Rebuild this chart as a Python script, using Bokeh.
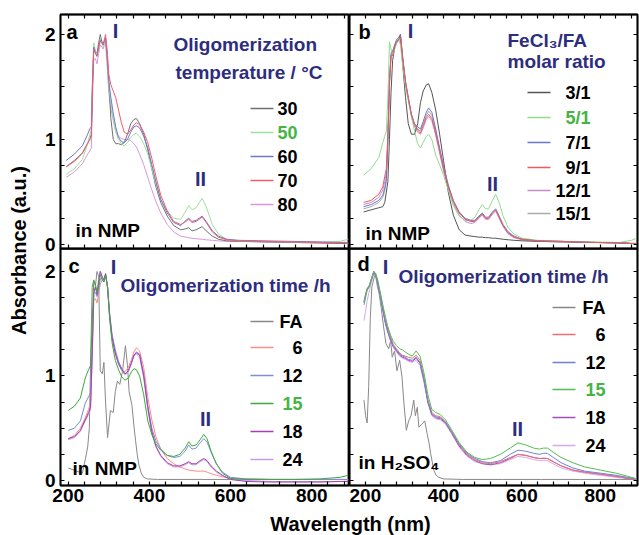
import math
from bokeh.plotting import figure
from bokeh.models import Label, FixedTicker, Range1d, LinearAxis
from bokeh.layouts import row, column
from bokeh.embed import file_html
from bokeh.resources import INLINE

# ---------------- data ----------------
# panel a : oligomerization temperature (in NMP)
WL_A = [195, 215, 235, 248, 253, 257, 260, 263, 267, 271, 275, 279, 283, 286, 289, 292, 296,
        300, 305, 311, 317, 324, 331, 338, 346, 354, 362, 368, 376, 386, 396, 406, 416, 428, 444, 460, 477,
        490, 497, 505, 515, 530, 540, 555, 570, 590, 620, 680, 750, 820, 870, 890]
A_30 = [0.74, 0.80, 0.87, 0.96, 1.00, 1.05, 1.55, 1.88, 1.84, 1.82, 1.92, 2.00, 1.93, 1.90, 1.93, 1.96, 1.80,
        1.55, 1.20, 1.00, 0.96, 0.96, 0.95, 0.97, 1.05, 1.15, 1.19, 1.20, 1.15, 1.05, 0.90, 0.72, 0.55, 0.40, 0.27, 0.18, 0.14,
        0.15, 0.16, 0.13, 0.14, 0.17, 0.13, 0.08, 0.05, 0.035, 0.03, 0.025, 0.02, 0.015, 0.01, 0.01]
A_50 = [0.67, 0.72, 0.81, 0.96, 1.04, 1.10, 1.60, 1.92, 1.84, 1.80, 1.86, 1.93, 1.92, 1.88, 1.92, 1.95, 1.75,
        1.50, 1.35, 1.20, 1.07, 1.00, 0.96, 0.94, 0.97, 1.02, 1.05, 1.06, 1.03, 0.96, 0.86, 0.72, 0.58, 0.43, 0.32, 0.25, 0.24,
        0.32, 0.37, 0.33, 0.35, 0.44, 0.36, 0.19, 0.10, 0.05, 0.035, 0.03, 0.025, 0.02, 0.03, 0.05]
A_60 = [0.80, 0.86, 0.94, 1.05, 1.10, 1.12, 1.58, 1.88, 1.82, 1.79, 1.88, 1.95, 1.93, 1.90, 1.94, 1.97, 1.78,
        1.55, 1.40, 1.25, 1.12, 1.02, 0.98, 0.97, 1.00, 1.07, 1.12, 1.13, 1.11, 1.03, 0.92, 0.76, 0.60, 0.43, 0.30, 0.21, 0.18,
        0.23, 0.25, 0.22, 0.23, 0.27, 0.22, 0.13, 0.08, 0.05, 0.04, 0.035, 0.03, 0.025, 0.02, 0.02]
A_70 = [0.74, 0.79, 0.87, 0.97, 1.00, 1.03, 1.52, 1.86, 1.82, 1.80, 1.88, 1.94, 1.92, 1.90, 1.95, 2.00, 1.85,
        1.62, 1.52, 1.46, 1.40, 1.28, 1.16, 1.07, 1.05, 1.09, 1.14, 1.16, 1.14, 1.07, 0.97, 0.82, 0.65, 0.47, 0.32, 0.22, 0.19,
        0.22, 0.24, 0.21, 0.22, 0.26, 0.21, 0.12, 0.07, 0.045, 0.035, 0.03, 0.025, 0.02, 0.015, 0.01]
A_80 = [0.64, 0.69, 0.77, 0.86, 0.89, 0.92, 1.40, 1.76, 1.77, 1.72, 1.82, 1.90, 1.88, 1.86, 1.90, 1.93, 1.70,
        1.45, 1.30, 1.18, 1.08, 1.03, 1.01, 1.00, 1.00, 0.99, 0.96, 0.93, 0.86, 0.76, 0.64, 0.52, 0.41, 0.30, 0.19, 0.12, 0.08,
        0.07, 0.065, 0.06, 0.055, 0.05, 0.045, 0.04, 0.035, 0.03, 0.03, 0.025, 0.02, 0.015, 0.01, 0.01]
A_NAMES = ["30", "50", "60", "70", "80"]

# panel b : FeCl3/FA molar ratio (in NMP)
WL_B = [196, 215, 235, 245, 250, 254, 258, 262, 266, 270, 275, 280, 285, 290, 296, 303, 310, 318, 326, 334,
        341, 348, 356, 362, 370, 380, 390, 400, 412, 425, 440, 455, 470, 480, 490, 499, 507, 515, 525, 533,
        542, 552, 565, 580, 600, 640, 700, 780, 850, 880, 893]
B_3 = [0.31, 0.33, 0.35, 0.36, 0.40, 0.50, 0.60, 1.00, 1.45, 1.75, 1.87, 1.92, 1.95, 2.00, 1.70, 1.40, 1.15, 1.05, 1.05, 1.15,
       1.35, 1.46, 1.52, 1.53, 1.45, 1.28, 1.05, 0.80, 0.50, 0.28, 0.14, 0.09, 0.08, 0.075, 0.07, 0.07, 0.065, 0.065, 0.06, 0.06,
       0.055, 0.05, 0.045, 0.04, 0.035, 0.03, 0.025, 0.02, 0.015, 0.01, 0.01]
B_5 = [0.66, 0.72, 0.83, 0.97, 1.03, 1.08, 1.40, 1.93, 1.86, 1.80, 1.85, 1.92, 1.97, 1.90, 1.70, 1.50, 1.38, 1.22, 1.08, 0.96,
       0.92, 0.97, 1.03, 1.05, 1.00, 0.85, 0.76, 0.66, 0.52, 0.37, 0.27, 0.23, 0.23, 0.26, 0.33, 0.38, 0.34, 0.34, 0.42, 0.48,
       0.40, 0.27, 0.16, 0.10, 0.06, 0.04, 0.03, 0.025, 0.02, 0.04, 0.06]
B_7 = [0.36, 0.38, 0.42, 0.47, 0.54, 0.62, 1.00, 1.55, 1.82, 1.84, 1.90, 1.95, 1.97, 2.00, 1.78, 1.55, 1.40, 1.24, 1.15, 1.12,
       1.10, 1.17, 1.26, 1.30, 1.26, 1.10, 0.92, 0.75, 0.57, 0.42, 0.31, 0.25, 0.23, 0.23, 0.27, 0.30, 0.26, 0.26, 0.31, 0.34,
       0.27, 0.19, 0.12, 0.08, 0.05, 0.035, 0.03, 0.02, 0.015, 0.01, 0.01]
B_9 = [0.40, 0.42, 0.48, 0.55, 0.65, 0.72, 1.05, 1.55, 1.80, 1.80, 1.88, 1.93, 1.95, 1.98, 1.76, 1.55, 1.40, 1.24, 1.14, 1.09,
       1.06, 1.13, 1.21, 1.24, 1.20, 1.06, 0.89, 0.72, 0.55, 0.41, 0.30, 0.24, 0.22, 0.22, 0.26, 0.29, 0.25, 0.25, 0.30, 0.33,
       0.26, 0.18, 0.11, 0.07, 0.05, 0.035, 0.03, 0.02, 0.015, 0.01, 0.01]
B_12 = [0.38, 0.40, 0.45, 0.52, 0.60, 0.68, 1.02, 1.52, 1.80, 1.80, 1.87, 1.92, 1.94, 1.97, 1.75, 1.53, 1.38, 1.22, 1.12, 1.07,
        1.05, 1.11, 1.19, 1.22, 1.18, 1.04, 0.87, 0.70, 0.53, 0.39, 0.28, 0.22, 0.20, 0.21, 0.25, 0.28, 0.24, 0.24, 0.29, 0.32,
        0.25, 0.17, 0.10, 0.065, 0.045, 0.03, 0.025, 0.02, 0.015, 0.01, 0.01]
B_15 = [0.34, 0.36, 0.40, 0.45, 0.51, 0.60, 0.98, 1.52, 1.80, 1.83, 1.89, 1.94, 1.96, 1.99, 1.77, 1.54, 1.39, 1.23, 1.14, 1.10,
        1.08, 1.15, 1.23, 1.27, 1.23, 1.08, 0.90, 0.73, 0.56, 0.41, 0.30, 0.24, 0.22, 0.22, 0.26, 0.29, 0.25, 0.25, 0.30, 0.33,
        0.26, 0.18, 0.11, 0.07, 0.05, 0.035, 0.03, 0.02, 0.015, 0.01, 0.01]
B_NAMES = ["3/1", "5/1", "7/1", "9/1", "12/1", "15/1"]

# panel c : oligomerization time (in NMP)
WL_C = [200, 215, 230, 242, 250, 255, 259, 263, 267, 271, 275, 279, 284, 288, 292, 297, 302, 308, 316, 324,
        332, 340, 348, 356, 362, 368, 376, 386, 396, 406, 416, 428, 444, 460, 475, 488, 497, 505, 515, 525,
        534, 542, 552, 565, 580, 600, 640, 700, 760, 820, 870, 890]
C_6 = [0.40, 0.43, 0.50, 0.60, 0.68, 0.74, 1.20, 1.72, 1.74, 1.70, 1.78, 1.88, 1.92, 1.90, 1.98, 1.85, 1.60, 1.38, 1.22, 1.12,
       1.06, 1.04, 1.08, 1.16, 1.23, 1.27, 1.24, 1.08, 0.80, 0.58, 0.42, 0.30, 0.21, 0.16, 0.13, 0.11, 0.10, 0.095, 0.09, 0.09,
       0.09, 0.08, 0.065, 0.05, 0.035, 0.02, 0.015, 0.01, 0.01, 0.01, 0.01, 0.01]
C_12 = [0.48, 0.50, 0.57, 0.74, 0.80, 0.84, 1.30, 1.80, 1.80, 1.76, 1.83, 1.93, 1.93, 1.90, 1.97, 1.85, 1.60, 1.40, 1.25, 1.14,
        1.07, 1.02, 1.04, 1.13, 1.20, 1.23, 1.21, 1.02, 0.72, 0.50, 0.38, 0.30, 0.24, 0.22, 0.23, 0.28, 0.34, 0.30, 0.31, 0.36,
        0.40, 0.37, 0.27, 0.16, 0.08, 0.03, 0.015, 0.01, 0.01, 0.01, 0.01, 0.01]
C_15 = [0.67, 0.71, 0.79, 0.98, 1.06, 1.10, 1.50, 1.91, 1.88, 1.80, 1.86, 1.97, 1.92, 1.90, 1.97, 1.85, 1.55, 1.32, 1.15, 1.06,
        0.99, 0.96, 0.98, 1.04, 1.07, 1.06, 1.00, 0.82, 0.57, 0.44, 0.35, 0.29, 0.24, 0.23, 0.25, 0.31, 0.37, 0.33, 0.34, 0.39,
        0.44, 0.40, 0.28, 0.16, 0.07, 0.02, 0.01, 0.01, 0.01, 0.015, 0.03, 0.05]
C_18 = [0.40, 0.42, 0.48, 0.58, 0.65, 0.70, 1.20, 1.80, 1.85, 1.78, 1.90, 2.00, 1.95, 1.92, 1.98, 1.85, 1.58, 1.37, 1.22, 1.12,
        1.06, 1.02, 1.05, 1.13, 1.20, 1.22, 1.20, 1.00, 0.70, 0.47, 0.33, 0.24, 0.17, 0.14, 0.14, 0.16, 0.18, 0.16, 0.16, 0.19,
        0.21, 0.19, 0.14, 0.09, 0.05, 0.01, -0.01, -0.015, -0.015, -0.015, -0.01, -0.01]
C_24 = [0.39, 0.41, 0.47, 0.57, 0.63, 0.68, 1.15, 1.78, 1.86, 1.80, 1.93, 2.00, 1.94, 1.91, 1.97, 1.83, 1.56, 1.36, 1.21, 1.11,
        1.05, 1.01, 1.04, 1.12, 1.19, 1.21, 1.18, 0.98, 0.68, 0.45, 0.32, 0.23, 0.16, 0.13, 0.13, 0.15, 0.17, 0.15, 0.15, 0.18,
        0.20, 0.18, 0.13, 0.08, 0.045, 0.01, 0.0, -0.01, -0.01, -0.01, -0.01, -0.005]
WL_FA_C = [200, 220, 235, 242, 248, 252, 256, 259, 263, 267, 271, 275, 279, 284, 288, 292, 297, 304, 311, 316,
           321, 327, 334, 341, 346, 350, 357, 362, 366, 370, 374, 380, 386, 395, 420, 500, 600, 700, 800, 890]
FA_C = [0.12, 0.09, 0.07, 0.20, 0.32, 0.50, 1.30, 1.85, 1.92, 1.86, 2.00, 1.95, 1.05, 1.02, 1.13, 0.75, 0.41, 0.67, 0.65, 0.85,
        0.95, 0.92, 1.05, 1.29, 1.10, 0.85, 0.72, 0.52, 0.38, 0.25, 0.15, 0.07, 0.03, 0.015, 0.01, 0.01, 0.01, 0.01, 0.01, 0.01]
T_NAMES = ["FA", "6", "12", "15", "18", "24"]

# panel d : oligomerization time (in H2SO4)
WL_D = [197, 201, 205, 210, 216, 222, 227, 232, 238, 245, 252, 258, 265, 272, 280, 288, 295, 302, 310, 320,
        330, 340, 350, 360, 370, 380, 392, 405, 420, 440, 460, 480, 500, 520, 545, 570, 590, 610, 630, 645,
        655, 665, 680, 700, 730, 760, 800, 840, 870, 890]
D_6 = [1.72, 1.78, 1.84, 1.86, 1.93, 2.00, 1.97, 1.90, 1.80, 1.66, 1.53, 1.45, 1.37, 1.30, 1.26, 1.22, 1.20, 1.19, 1.18, 1.17,
       1.20, 1.15, 0.99, 0.77, 0.65, 0.62, 0.61, 0.56, 0.47, 0.34, 0.25, 0.20, 0.17, 0.16, 0.18, 0.22, 0.25, 0.24, 0.22, 0.21,
       0.215, 0.21, 0.18, 0.14, 0.10, 0.08, 0.06, 0.04, 0.02, 0.01]
D_12 = [1.71, 1.77, 1.83, 1.86, 1.93, 2.00, 1.97, 1.89, 1.78, 1.64, 1.51, 1.43, 1.35, 1.29, 1.25, 1.21, 1.19, 1.18, 1.16, 1.15,
        1.18, 1.13, 0.97, 0.76, 0.64, 0.61, 0.60, 0.56, 0.47, 0.35, 0.26, 0.21, 0.18, 0.17, 0.19, 0.25, 0.29, 0.28, 0.26, 0.25,
        0.26, 0.26, 0.22, 0.17, 0.12, 0.09, 0.07, 0.05, 0.03, 0.015]
D_15 = [1.68, 1.75, 1.82, 1.85, 1.93, 2.00, 1.98, 1.92, 1.81, 1.68, 1.56, 1.47, 1.39, 1.33, 1.29, 1.26, 1.25, 1.23, 1.21, 1.19,
        1.24, 1.19, 1.03, 0.82, 0.68, 0.65, 0.63, 0.58, 0.49, 0.36, 0.27, 0.22, 0.20, 0.21, 0.25, 0.31, 0.36, 0.34, 0.31, 0.30,
        0.31, 0.31, 0.27, 0.22, 0.17, 0.13, 0.10, 0.07, 0.04, 0.02]
D_18 = [1.70, 1.77, 1.83, 1.85, 1.92, 1.99, 1.96, 1.88, 1.77, 1.63, 1.50, 1.42, 1.34, 1.28, 1.24, 1.20, 1.18, 1.17, 1.15, 1.14,
        1.17, 1.12, 0.96, 0.75, 0.63, 0.60, 0.59, 0.55, 0.46, 0.33, 0.24, 0.19, 0.16, 0.15, 0.17, 0.21, 0.25, 0.24, 0.22, 0.21,
        0.21, 0.21, 0.18, 0.14, 0.10, 0.08, 0.06, 0.04, 0.02, 0.01]
D_24 = [1.53, 1.62, 1.72, 1.80, 1.90, 1.98, 1.95, 1.87, 1.76, 1.62, 1.49, 1.41, 1.33, 1.27, 1.23, 1.19, 1.17, 1.16, 1.14, 1.13,
        1.15, 1.10, 0.94, 0.74, 0.62, 0.59, 0.58, 0.54, 0.45, 0.32, 0.23, 0.18, 0.16, 0.15, 0.16, 0.20, 0.23, 0.22, 0.20, 0.19,
        0.19, 0.19, 0.16, 0.12, 0.09, 0.07, 0.05, 0.03, 0.02, 0.01]
WL_FA_D = [197, 201, 205, 209, 213, 217, 222, 226, 231, 236, 241, 247, 253, 260, 265, 269, 275, 281, 288, 294,
           298, 305, 311, 317, 324, 328, 333, 337, 345, 352, 358, 363, 367, 371, 375, 381, 388, 400, 450, 550,
           650, 750, 850, 890]
FA_D = [0.77, 0.62, 0.55, 0.90, 1.55, 1.85, 1.93, 1.98, 1.86, 1.78, 1.65, 1.47, 1.31, 1.26, 1.34, 1.18, 1.24, 1.05, 1.15, 0.99,
        0.78, 0.48, 0.57, 0.62, 0.77, 0.62, 0.70, 0.51, 0.54, 0.57, 0.45, 0.36, 0.26, 0.18, 0.10, 0.05, 0.03, 0.015, 0.01, 0.01,
        0.01, 0.01, 0.01, 0.01]

X_MAJOR = [200, 400, 600, 800]
X_MINOR = [160, 240, 280, 320, 360, 440, 480, 520, 560, 640, 680, 720, 760, 840, 880]
Y_MAJOR = [0, 1, 2]
Y_MINOR = [0.25, 0.5, 0.75, 1.25, 1.5, 1.75]

# ---------------- styling / geometry ----------------
FONT = "Liberation Sans"
NAVY = "#2d2d80"
GTXT = "#44b444"

XR_AC = (181, 893)
XR_BD = (160, 895)
YR_AB = (-0.038, 2.19)
YR_CD = (-0.048, 2.22)
RANGES = {"a": (XR_AC, YR_AB), "b": (XR_BD, YR_AB), "c": (XR_AC, YR_CD), "d": (XR_BD, YR_CD)}
# frame position on the page (left, top, width, height) used to place annotations
FR = {"a": (60, 14, 289, 234), "b": (349, 14, 288, 234), "c": (60, 248, 289, 237), "d": (349, 248, 288, 237)}


def at(k, px, py):
    fx, fy, fw, fh = FR[k]
    (x0, x1), (y0, y1) = RANGES[k]
    return x0 + (px - fx) * (x1 - x0) / fw, y1 - (py - fy) * (y1 - y0) / fh


def make_axis(dim, show, ticks=True):
    ax = LinearAxis()
    major = X_MAJOR if dim == "x" else Y_MAJOR
    minor = X_MINOR if dim == "x" else Y_MINOR
    if show:
        ax.ticker = FixedTicker(ticks=major, minor_ticks=minor)
        ax.major_label_text_font = FONT
        ax.major_label_text_font_style = "bold"
        ax.major_label_text_font_size = "19px"
        ax.major_label_text_color = "black"
        ax.major_label_standoff = 5 if dim == "y" else 3
    else:
        # unlabeled axis: every tick drawn as a minor tick (no labels)
        ax.ticker = FixedTicker(ticks=[], minor_ticks=sorted(major + minor) if ticks else [])
    ax.axis_line_color = "black"
    ax.axis_line_width = 1.5
    ax.major_tick_in = 4
    ax.major_tick_out = 0
    ax.minor_tick_in = 4
    ax.minor_tick_out = 0
    ax.major_tick_line_width = 1.2
    ax.minor_tick_line_width = 1.2
    return ax


def make_panel(k, width, height, borders, xlab, ylab, top_ticks, right_ticks):
    (xr, yr) = RANGES[k]
    p = figure(width=width, height=height, x_range=Range1d(*xr), y_range=Range1d(*yr),
               output_backend="svg", toolbar_location=None,
               x_axis_location=None, y_axis_location=None,
               min_border_left=borders[0], min_border_right=borders[1],
               min_border_top=borders[2], min_border_bottom=borders[3])
    p.xgrid.visible = False
    p.ygrid.visible = False
    p.outline_line_color = "black"
    p.outline_line_width = 1.8
    p.add_layout(make_axis("x", xlab), "below")
    p.add_layout(make_axis("x", False, top_ticks), "above")
    p.add_layout(make_axis("y", ylab), "left")
    p.add_layout(make_axis("y", False, right_ticks), "right")
    return p


def txt(p, k, px, py, text, size=19, color="black", align="left", center=False):
    # py is the baseline (or the vertical centre when center=True), page pixels
    cy = py if center else py - 0.35 * size
    x, y = at(k, px, cy)
    p.add_layout(Label(x=x, y=y, text=text, text_font=FONT, text_font_size=f"{size}px",
                       text_font_style="bold", text_color=color, text_align=align,
                       text_baseline="middle"))


def legend(p, k, x0, x1, ys, colors, names, name_colors, lx, align):
    sx0, sy0, sx1 = [], [], []
    for y in ys:
        a0 = at(k, x0, y)
        a1 = at(k, x1, y)
        sx0.append(a0[0]); sy0.append(a0[1]); sx1.append(a1[0])
    p.segment(x0=sx0, y0=sy0, x1=sx1, y1=sy0, line_color=colors, line_width=1.3)
    for y, n, c in zip(ys, names, name_colors):
        txt(p, k, lx, y, n, size=18, color=c, align=align, center=True)


# ---------------- panels ----------------
fa = make_panel("a", 313, 254, (24, 0, 14, 6), False, True, True, False)
fb = make_panel("b", 290, 254, (0, 2, 14, 6), False, False, True, True)
fc = make_panel("c", 313, 259, (24, 0, 0, 22), True, True, False, False)
fd = make_panel("d", 290, 259, (0, 2, 0, 22), True, False, False, True)
for p in (fa, fb):
    p.border_fill_alpha = 0
for p in (fc, fd):
    p.border_fill_alpha = 0
    p.background_fill_alpha = 0

COL_A = ["#707070", "#9fe09f", "#6a78d0", "#f35c6a", "#dc96dc"]
for ys, c in zip([A_80, A_30, A_50, A_60, A_70], [COL_A[4], COL_A[0], COL_A[1], COL_A[2], COL_A[3]]):
    fa.line(WL_A, ys, line_color=c, line_width=1)

COL_B = ["#555555", "#8fdc8f", "#6a78d0", "#f05a5a", "#c88ac8", "#aaaaaa"]
for ys, c in zip([B_15, B_12, B_3, B_5, B_7, B_9], [COL_B[5], COL_B[4], COL_B[0], COL_B[1], COL_B[2], COL_B[3]]):
    fb.line(WL_B, ys, line_color=c, line_width=1)

COL_C = ["#888888", "#ff8a8a", "#7f8cd8", "#3aaa3a", "#a040b0", "#c99be0"]
fc.line(WL_FA_C, FA_C, line_color=COL_C[0], line_width=1)
for ys, c in zip([C_6, C_12, C_24, C_18, C_15], [COL_C[1], COL_C[2], COL_C[5], COL_C[4], COL_C[3]]):
    fc.line(WL_C, ys, line_color=c, line_width=1)

COL_D = ["#888888", "#f07070", "#7080d8", "#50c050", "#a050b8", "#d8a8e8"]
fd.line(WL_FA_D, FA_D, line_color=COL_D[0], line_width=1)
for ys, c in zip([D_24, D_18, D_6, D_12, D_15], [COL_D[5], COL_D[4], COL_D[1], COL_D[2], COL_D[3]]):
    fd.line(WL_D, ys, line_color=c, line_width=1)

# ---------------- annotations ----------------
# panel a
txt(fa, "a", 66, 38, "a", size=20)
txt(fa, "a", 115, 37, "I", size=20, color=NAVY, align="center")
txt(fa, "a", 200, 185, "II", size=20, color=NAVY, align="center")
txt(fa, "a", 173, 51, "Oligomerization", color=NAVY)
txt(fa, "a", 175, 79, "temperature / \u00b0C", color=NAVY)
txt(fa, "a", 75, 237, "in NMP")
legend(fa, "a", 250, 273, [108, 132, 156, 180, 204], COL_A, A_NAMES,
       ["black", GTXT, "black", "black", "black"], 277, "left")

# panel b
txt(fb, "b", 358, 38, "b", size=20)
txt(fb, "b", 410, 37, "I", size=20, color=NAVY, align="center")
txt(fb, "b", 492, 190, "II", size=20, color=NAVY, align="center")
txt(fb, "b", 507, 47, "FeCl\u2083/FA", color=NAVY)
txt(fb, "b", 507, 68, "molar ratio", color=NAVY)
txt(fb, "b", 365, 240, "in NMP")
legend(fb, "b", 527, 550, [92, 117, 142, 167, 190, 213], COL_B, B_NAMES,
       ["black", GTXT, "black", "black", "black", "black"], 590, "right")

# panel c
txt(fc, "c", 68, 272, "c", size=20)
txt(fc, "c", 113, 273, "I", size=20, color=NAVY, align="center")
txt(fc, "c", 205, 425, "II", size=20, color=NAVY, align="center")
txt(fc, "c", 120, 292, "Oligomerization time /h", color=NAVY)
txt(fc, "c", 72, 475, "in NMP")
legend(fc, "c", 250, 273, [321, 347, 375, 403, 431, 459], COL_C, T_NAMES,
       ["black", "black", "black", GTXT, "black", "black"], 302, "right")

# panel d
txt(fd, "d", 357, 270, "d", size=20)
txt(fd, "d", 385, 273, "I", size=20, color=NAVY, align="center")
txt(fd, "d", 517, 435, "II", size=20, color=NAVY, align="center")
txt(fd, "d", 398, 283, "Oligomerization time /h", color=NAVY)
txt(fd, "d", 358, 469, "in H\u2082SO\u2084")
legend(fd, "d", 552, 575, [307, 334, 362, 389, 417, 445], COL_D, T_NAMES,
       ["black", "black", "black", GTXT, "black", "black"], 605, "right")


# ---------------- shared axis titles ----------------
def blank(w, h):
    p = figure(width=w, height=h, x_range=Range1d(0, w), y_range=Range1d(0, h),
               output_backend="svg", toolbar_location=None,
               x_axis_location=None, y_axis_location=None, min_border=0)
    p.xgrid.visible = False
    p.ygrid.visible = False
    p.outline_line_color = None
    p.border_fill_color = "white"
    return p


yl = blank(36, 535)
yl.add_layout(Label(x=18, y=535 - 250, text="Absorbance (a.u.)", angle=math.pi / 2,
                    text_font=FONT, text_font_size="20px", text_font_style="bold",
                    text_align="center", text_baseline="middle", text_color="black"))
xl = blank(603, 28)
xl.add_layout(Label(x=350 - 36, y=28 - (530 - 7 - 507), text="Wavelength (nm)",
                    text_font=FONT, text_font_size="20px", text_font_style="bold",
                    text_align="center", text_baseline="middle", text_color="black"))

top_row = row(fa, fb)
bottom_row = row(fc, fd, margin=(-6, 0, 0, 0))
layout = row(yl, column(top_row, bottom_row, xl))

open("out.html", "w").write(file_html(layout, INLINE))
